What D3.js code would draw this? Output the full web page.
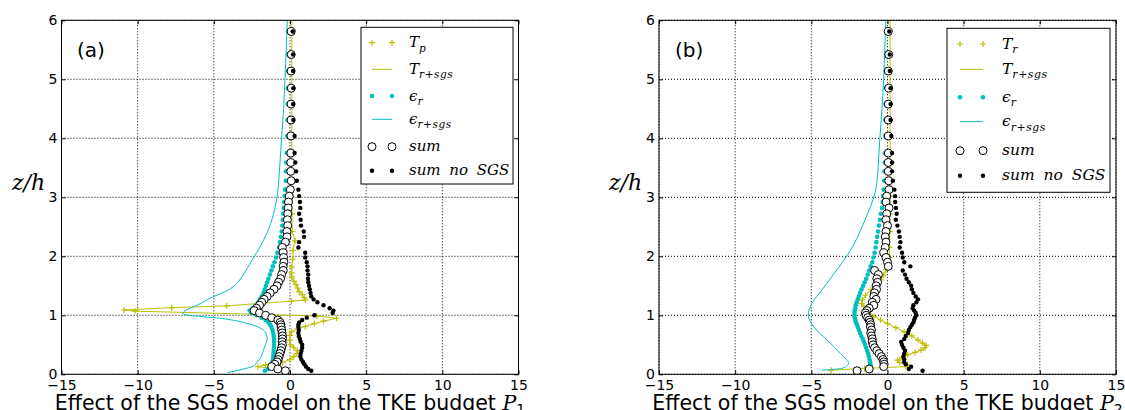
<!DOCTYPE html>
<html>
<head>
<meta charset="utf-8">
<script src="https://cdn.jsdelivr.net/npm/d3@7"></script>
<style>
  body { margin: 0; background: #fff; }
</style>
</head>
<body>
<script>
// axis ticks
const xTicks = [-15, -10, -5, 0, 5, 10, 15];
const yTicks = [0, 1, 2, 3, 4, 5, 6];

// heights of the marker series (same grid in both panels)
const zGrid = [5.81, 5.42, 5.14, 4.85, 4.58, 4.31, 4.04, 3.75, 3.59, 3.44, 3.28, 3.13, 3.02,
  2.92, 2.82, 2.72, 2.62, 2.52, 2.42, 2.33, 2.24, 2.15, 2.06,
  1.98, 1.90, 1.83, 1.76, 1.69, 1.62, 1.56, 1.50, 1.44, 1.38,
  1.32, 1.27, 1.22, 1.17, 1.12, 1.08, 1.04, 1.00, 0.96, 0.92,
  0.88, 0.84, 0.80, 0.75, 0.70, 0.65, 0.60, 0.55, 0.50, 0.45,
  0.40, 0.35, 0.30, 0.25, 0.21, 0.17, 0.13, 0.09, 0.06];

// ---- panel (a) ----
const epsA = [-0.12, -0.12, -0.13, -0.14, -0.15, -0.16, -0.18, -0.22, -0.24, -0.26, -0.28, -0.32, -0.35,
  -0.38, -0.41, -0.44, -0.47, -0.5, -0.55, -0.6, -0.66, -0.73, -0.82,
  -0.92, -1.02, -1.12, -1.22, -1.32, -1.42, -1.5, -1.58, -1.66, -1.74,
  -1.85, -1.96, -2.1, -2.25, -2.45, -2.65, -2.55, -2.2, -1.85, -1.6,
  -1.42, -1.3, -1.22, -1.15, -1.1, -1.07, -1.05, -1.05, -1.05, -1.06,
  -1.07, -1.08, -1.1, -1.12, -1.15, -1.2, -1.3, -1.45, -1.65];
const sumA = [0.08, 0.08, 0.07, 0.08, 0.07, 0.07, 0.06, 0.05, 0.05, 0.05, 0.08, 0.02, -0.05,
  -0.1, -0.12, -0.15, -0.17, -0.15, -0.2, -0.2, -0.3, -0.5, -0.45,
  -0.42, -0.4, -0.45, -0.44, -0.55, -0.62, -0.75, -0.85, -1.05, -1.3,
  -1.5, -1.7, -1.85, -2.0, -2.2, -2.35, -2.0, -1.6, -1.2, -0.8,
  -0.65, -0.6, -0.58, -0.55, -0.52, -0.5, -0.5, -0.52, -0.5, -0.55,
  -0.6, -0.66, -0.72, -0.78, -0.85, -1.0, -1.2, -0.8, -0.3];
const sumNoA = [0.18, 0.2, 0.2, 0.22, 0.2, 0.22, 0.3, 0.3, 0.35, 0.4, 0.45, 0.55, 0.6,
  0.65, 0.68, 0.6, 0.7, 0.72, 0.9, 0.92, 0.6, 0.55, 1.0,
  1.0, 1.1, 1.15, 1.15, 1.2, 1.18, 1.2, 1.25, 1.3, 1.35,
  1.4, 1.55, 1.8, 2.2, 2.6, 2.85, 2.8, 1.6, 1.1, 0.8,
  0.6, 0.55, 0.55, 0.58, 0.55, 0.58, 0.65, 0.7, 0.8, 0.8,
  0.75, 0.7, 0.68, 0.75, 0.85, 0.95, 1.05, 1.2, 1.4];
const tZA = [6.2, 5.81, 5.14, 4.58, 4.04, 3.59, 3.28, 3.02, 2.72, 2.42, 2.26, 2.1, 1.95, 1.82, 1.72,
  1.65, 1.58, 1.52, 1.46, 1.40, 1.35, 1.30, 1.26, 1.24, 1.16, 1.13, 1.09, 1.07, 0.99, 0.95,
  0.90, 0.86, 0.81, 0.77, 0.72, 0.66, 0.58, 0.50, 0.45, 0.40, 0.35, 0.30, 0.25, 0.20, 0.16,
  0.13, 0.09, 0.06];
const tA = [0.12, 0.12, 0.12, 0.12, 0.12, 0.12, 0.12, 0.12, 0.12, 0.15, 0.33, 0.2, 0.18, 0.12, 0.1,
  0.12, 0.25, 0.4, 0.5, 0.6, 0.8, 0.95, 1.0, 0.1, -4.16, -7.76, -10.9, -10.17, 1.75, 3.06,
  2.19, 1.6, 1.0, 0.5, 0.1, 0.0, 0.0, 0.05, 0.25, 0.5, 0.45, 0.25, 0.0, -0.5, -1.6,
  -2.1, -1.0, -0.4];
const eSgsZA = [6.2, 5.5, 5.0, 4.5, 4.0, 3.5, 3.0, 2.7, 2.4, 2.16, 1.88, 1.6, 1.51, 1.4, 1.29, 1.17,
  1.09, 1.03, 1.0, 0.95, 0.9, 0.84, 0.76, 0.68, 0.6, 0.5, 0.4, 0.3, 0.19, 0.14, 0.08, 0.03];
const eSgsA = [-0.15, -0.25, -0.33, -0.42, -0.55, -0.68, -0.85, -1.1, -1.5, -1.97, -2.62, -3.3, -3.6, -4.27, -5.25, -6.1,
  -6.8, -7.05, -6.6, -4.6, -3.4, -2.5, -1.8, -1.55, -1.5, -1.62, -1.75, -1.9, -2.2, -2.4, -3.2, -4.1];

// ---- panel (b) ----
const epsB = [-0.1, -0.1, -0.11, -0.12, -0.13, -0.14, -0.15, -0.17, -0.18, -0.2, -0.22, -0.25, -0.28,
  -0.32, -0.36, -0.44, -0.5, -0.56, -0.62, -0.68, -0.73, -0.78, -0.85,
  -0.93, -1.0, -1.1, -1.2, -1.3, -1.4, -1.5, -1.6, -1.7, -1.8,
  -1.88, -1.95, -2.02, -2.08, -2.12, -2.15, -2.17, -2.17, -2.15, -2.12,
  -2.07, -2.01, -1.95, -1.88, -1.8, -1.72, -1.63, -1.55, -1.47, -1.4,
  -1.33, -1.27, -1.22, -1.18, -1.15, -1.12, -1.1, -1.1, -1.85];
const sumB = [0.05, 0.08, 0.05, 0.08, 0.05, 0.05, 0.05, 0.05, 0.05, 0.05, 0.08, 0.1, -0.05,
  -0.1, 0.1, -0.05, -0.1, 0.0, -0.1, -0.15, -0.1, -0.15, -0.25,
  -0.1, 0.0, 0.05, -0.85, -0.6, -0.7, -0.65, -0.75, -0.72, -0.85,
  -0.9, -0.75, -1.0, -0.9, -1.2, -1.35, -1.45, -1.4, -1.3, -1.2,
  -1.15, -1.1, -1.12, -1.05, -1.1, -1.05, -1.0, -1.0, -0.95, -0.85,
  -0.7, -0.55, -0.4, -0.3, -0.25, -0.22, -0.25, -1.2, -2.0];
const sumNoB = [0.12, 0.15, 0.15, 0.2, 0.2, 0.2, 0.25, 0.3, 0.3, 0.3, 0.35, 0.45, 0.5,
  0.5, 0.55, 0.6, 0.55, 0.65, 0.75, 0.8, 0.85, 0.8, 0.95,
  1.0, 1.1, 1.5, 1.0, 1.15, 1.25, 1.4, 1.55, 1.6, 1.7,
  1.85, 2.0, 1.9, 1.7, 1.65, 1.75, 1.85, 1.9, 1.8, 1.75,
  1.7, 1.6, 1.5, 1.4, 1.35, 1.2, 1.1, 0.9, 0.95, 1.05,
  1.15, 1.1, 1.05, 1.1, 1.1, 1.2, 1.55, 1.4, 2.3];
const tZB = [6.2, 5.81, 5.14, 4.58, 4.04, 3.59, 3.28, 3.02, 2.72, 2.42, 2.15, 1.98, 1.85, 1.77, 1.68,
  1.6, 1.52, 1.43, 1.34, 1.26, 1.2, 1.15, 1.08, 0.98, 0.92, 0.86, 0.79, 0.72, 0.65, 0.58,
  0.53, 0.49, 0.45, 0.41, 0.37, 0.33, 0.28, 0.24, 0.2, 0.16, 0.13, 0.1, 0.07];
const tB = [0.17, 0.17, 0.17, 0.17, 0.17, 0.17, 0.17, 0.17, 0.17, 0.15, 0.12, 0.15, 0.0, -0.1, -0.25,
  -0.44, -0.75, -1.1, -1.45, -1.65, -1.7, -1.55, -1.25, -0.88, -0.45, 0.0, 0.55, 1.1, 1.6, 2.0,
  2.3, 2.54, 2.45, 2.2, 1.8, 1.32, 0.95, 0.66, 0.8, 1.3, 1.2, -1.5, -3.7];
const eSgsZB = [6.2, 5.5, 5.0, 4.5, 4.0, 3.5, 3.29, 3.0, 2.73, 2.45, 2.16, 1.9, 1.71, 1.43, 1.2, 1.0,
  0.81, 0.58, 0.36, 0.25, 0.2, 0.15, 0.1, 0.07];
const eSgsB = [-0.08, -0.18, -0.25, -0.36, -0.5, -0.62, -0.68, -0.9, -1.3, -1.75, -2.3, -2.95, -3.5, -4.3, -4.97, -5.2,
  -4.86, -3.97, -3.1, -2.7, -2.55, -2.65, -3.0, -4.3];

// legend labels: [base, subscript]
const legendA = [["T", "p"], ["T", "r+sgs"], ["ϵ", "r"], ["ϵ", "r+sgs"], ["sum", ""], ["sum no SGS", ""]];
const legendB = [["T", "r"], ["T", "r+sgs"], ["ϵ", "r"], ["ϵ", "r+sgs"], ["sum", ""], ["sum no SGS", ""]];

const yellow = "#bfbf00", cyan = "#00bfbf";

const svg = d3.select("body").append("svg")
  .attr("width", 1125).attr("height", 410);
svg.append("rect").attr("width", 1125).attr("height", 410).attr("fill", "#fff");

function drawPanel(p) {
  const x = d3.scaleLinear().domain([-15, 15]).range([p.left, p.right]);
  const y = d3.scaleLinear().domain([0, 6]).range([374.3, 20.3]);
  const g = svg.append("g");

  g.append("clipPath").attr("id", "clip" + p.id)
    .append("rect").attr("x", p.left).attr("y", 20.3)
    .attr("width", p.right - p.left).attr("height", 354);

  // dotted grid
  g.selectAll(".gx").data(xTicks).join("line")
    .attr("x1", d => x(d)).attr("x2", d => x(d))
    .attr("y1", y(0)).attr("y2", y(6))
    .attr("stroke", "#000").attr("stroke-width", 1).attr("stroke-dasharray", "1,2");
  g.selectAll(".gy").data(yTicks).join("line")
    .attr("x1", p.left).attr("x2", p.right)
    .attr("y1", d => y(d)).attr("y2", d => y(d))
    .attr("stroke", "#000").attr("stroke-width", 1).attr("stroke-dasharray", "1,2");

  const data = g.append("g").attr("clip-path", `url(#clip${p.id})`);
  const tPts = p.tZ.map((z, i) => [p.t[i], z]);
  const ePts = p.eZ.map((z, i) => [p.e[i], z]);

  // T markers
  data.selectAll(".tp").data(tPts).join("path")
    .attr("d", d => `M${x(d[0]) - 3},${y(d[1])}h6M${x(d[0])},${y(d[1]) - 3}v6`)
    .attr("stroke", yellow).attr("stroke-width", 1.2).attr("fill", "none");
  // T line
  data.append("path").datum(tPts)
    .attr("d", d3.line().x(d => x(d[0])).y(d => y(d[1])))
    .attr("fill", "none").attr("stroke", yellow).attr("stroke-width", 1);
  // eps_r dots
  data.selectAll(".ed").data(zGrid).join("circle")
    .attr("cx", (z, i) => x(p.eps[i])).attr("cy", z => y(z)).attr("r", 2.3)
    .attr("fill", cyan);
  // eps_r+sgs line
  data.append("path").datum(ePts)
    .attr("d", d3.line().x(d => x(d[0])).y(d => y(d[1])).curve(d3.curveMonotoneY))
    .attr("fill", "none").attr("stroke", cyan).attr("stroke-width", 1);
  // sum circles
  data.selectAll(".sc").data(zGrid).join("circle")
    .attr("cx", (z, i) => x(p.sum[i])).attr("cy", z => y(z)).attr("r", 4)
    .attr("fill", "#fff").attr("stroke", "#000").attr("stroke-width", 1);
  // sum no SGS dots
  data.selectAll(".sn").data(zGrid).join("circle")
    .attr("cx", (z, i) => x(p.sumNo[i])).attr("cy", z => y(z)).attr("r", 2.2)
    .attr("fill", "#000");

  // frame
  g.append("rect").attr("x", p.left).attr("y", 20.3)
    .attr("width", p.right - p.left).attr("height", 354)
    .attr("fill", "none").attr("stroke", "#000").attr("stroke-width", 1);

  // axes with inward ticks
  const bottom = g.append("g").attr("transform", `translate(0,${y(0)})`)
    .call(d3.axisBottom(x).tickValues(xTicks).tickSize(-4).tickPadding(6));
  const left = g.append("g").attr("transform", `translate(${p.left},0)`)
    .call(d3.axisLeft(y).tickValues(yTicks).tickFormat(d3.format("d")).tickSize(-4).tickPadding(4));
  g.append("g").attr("transform", `translate(0,${y(6)})`)
    .call(d3.axisTop(x).tickValues(xTicks).tickSize(-4).tickFormat(""));
  g.append("g").attr("transform", `translate(${p.right},0)`)
    .call(d3.axisRight(y).tickValues(yTicks).tickSize(-4).tickFormat(""));
  g.selectAll(".domain").remove();
  g.selectAll(".tick line").attr("stroke", "#000");
  [bottom, left].forEach(a => a.attr("font-family", "DejaVu Sans").attr("font-size", 14)
    .selectAll("text").attr("fill", "#000"));

  // y label
  g.append("text").attr("x", p.zhX).attr("y", 190)
    .attr("font-family", "DejaVu Serif").attr("font-style", "italic").attr("font-size", 22)
    .text("z/h");

  // panel tag
  g.append("text").attr("x", p.tagX).attr("y", 57)
    .attr("font-family", "DejaVu Sans").attr("font-size", 20).text(p.tag);

  // x label
  const xl = g.append("text").attr("x", (p.left + p.right) / 2).attr("y", 409.5)
    .attr("text-anchor", "middle").attr("font-family", "DejaVu Sans").attr("font-size", 20.5);
  xl.append("tspan").text("Effect of the SGS model on the TKE budget ");
  xl.append("tspan").attr("font-family", "DejaVu Serif").attr("font-style", "italic").text("P");
  xl.append("tspan").attr("font-size", 14).attr("dy", 4).text(p.sub);

  // legend
  const L = p.leg;
  g.append("rect").attr("x", L.x0).attr("y", L.y0)
    .attr("width", L.x1 - L.x0).attr("height", L.y1 - L.y0)
    .attr("fill", "#fff").attr("stroke", "#000").attr("stroke-width", 1);
  p.labels.forEach((lab, i) => {
    const ry = L.rows[i];
    const mx = [L.m0, L.m1];
    if (i === 0) {
      mx.forEach(m => g.append("path")
        .attr("d", `M${m - 3},${ry}h6M${m},${ry - 3}v6`)
        .attr("stroke", yellow).attr("stroke-width", 1.2));
    } else if (i === 1 || i === 3) {
      g.append("line").attr("x1", L.m0).attr("x2", L.m1).attr("y1", ry).attr("y2", ry)
        .attr("stroke", i === 1 ? yellow : cyan).attr("stroke-width", 1);
    } else if (i === 2) {
      mx.forEach(m => g.append("circle").attr("cx", m).attr("cy", ry).attr("r", 2.3).attr("fill", cyan));
    } else if (i === 4) {
      mx.forEach(m => g.append("circle").attr("cx", m).attr("cy", ry).attr("r", 4)
        .attr("fill", "#fff").attr("stroke", "#000"));
    } else {
      mx.forEach(m => g.append("circle").attr("cx", m).attr("cy", ry).attr("r", 2.2).attr("fill", "#000"));
    }
    const t = g.append("text").attr("x", L.tx).attr("y", ry + 4.5)
      .attr("font-family", "DejaVu Serif").attr("font-style", "italic")
      .attr("font-size", L.fs).attr("word-spacing", 4);
    t.append("tspan").text(lab[0]);
    if (lab[1]) t.append("tspan").attr("font-size", L.fs * 0.7).attr("dy", 4.5)
      .attr("word-spacing", 0).attr("letter-spacing", 0.6).text(lab[1]);
  });
}

drawPanel({
  id: "a", left: 61.5, right: 518.5, tag: "(a)", tagX: 77, zhX: 12, sub: "1",
  eps: epsA, sum: sumA, sumNo: sumNoA, tZ: tZA, t: tA, eZ: eSgsZA, e: eSgsA,
  labels: legendA,
  leg: { x0: 361, x1: 513, y0: 27.3, y1: 184, m0: 372, m1: 392, tx: 409, fs: 15,
         rows: [42.7, 69.3, 96, 119.3, 146.7, 170.7] }
});
drawPanel({
  id: "b", left: 659, right: 1116, tag: "(b)", tagX: 675, zhX: 609, sub: "2",
  eps: epsB, sum: sumB, sumNo: sumNoB, tZ: tZB, t: tB, eZ: eSgsZB, e: eSgsB,
  labels: legendB,
  leg: { x0: 947, x1: 1110, y0: 28.3, y1: 192.3, m0: 960, m1: 983, tx: 1002, fs: 15.5,
         rows: [44, 69.3, 97.3, 121.7, 150.7, 175.7] }
});
</script>
</body>
</html>
